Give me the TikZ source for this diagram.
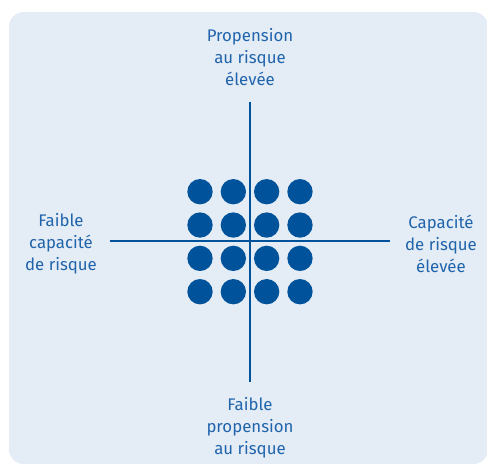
\documentclass[tikz,border=0pt]{standalone}
\usepackage{fontspec}
\setmainfont{Fira Sans}
\definecolor{panel}{HTML}{E4ECF5}
\definecolor{dotblue}{HTML}{00529B}
\definecolor{labelblue}{HTML}{2064AC}
\begin{document}
\begin{tikzpicture}[x=0.75pt,y=-0.75pt,
	axislabel/.style={text=labelblue,align=center,font=\fontsize{12.6}{16.4}\selectfont,inner sep=0pt},
	axisline/.style={draw=dotblue,line width=1.1pt},
	riskdot/.style={circle,fill=dotblue,minimum size=19pt,inner sep=0pt}]
	\useasboundingbox (0,0) rectangle (487,465);
	% Draw the panel
	\fill[panel,rounded corners=11pt] (9,12) rectangle (488,464);

	 \node [axislabel] (high propensity) at (250,57) {Propension\\au risque\\élevée};
	 \node [axislabel] (low propensity) at (250,428) {Faible\\propension\\au risque};
	 \node [axislabel] (low capacity) at (61,244) {Faible\\capacité\\de risque};
	 \node [axislabel] (high capacity) at (441,244) {Capacité\\de risque\\élevée};

	 \coordinate (top) at (250,102);
	 \coordinate (bottom) at (250,382);
	 \coordinate (left) at (110,241);
	 \coordinate (right) at (390,241);
	 \draw[axisline] (top) -- (bottom);
	 \draw[axisline] (left) -- (right);

	 % Draw the dots
	 \foreach \i in {0,...,3}
	 \foreach \j in {0,...,3}
	 \node [riskdot] (dot\i\j) at (200+33.33*\i,191.7+33.33*\j) {};

	\end{tikzpicture}
\end{document}
